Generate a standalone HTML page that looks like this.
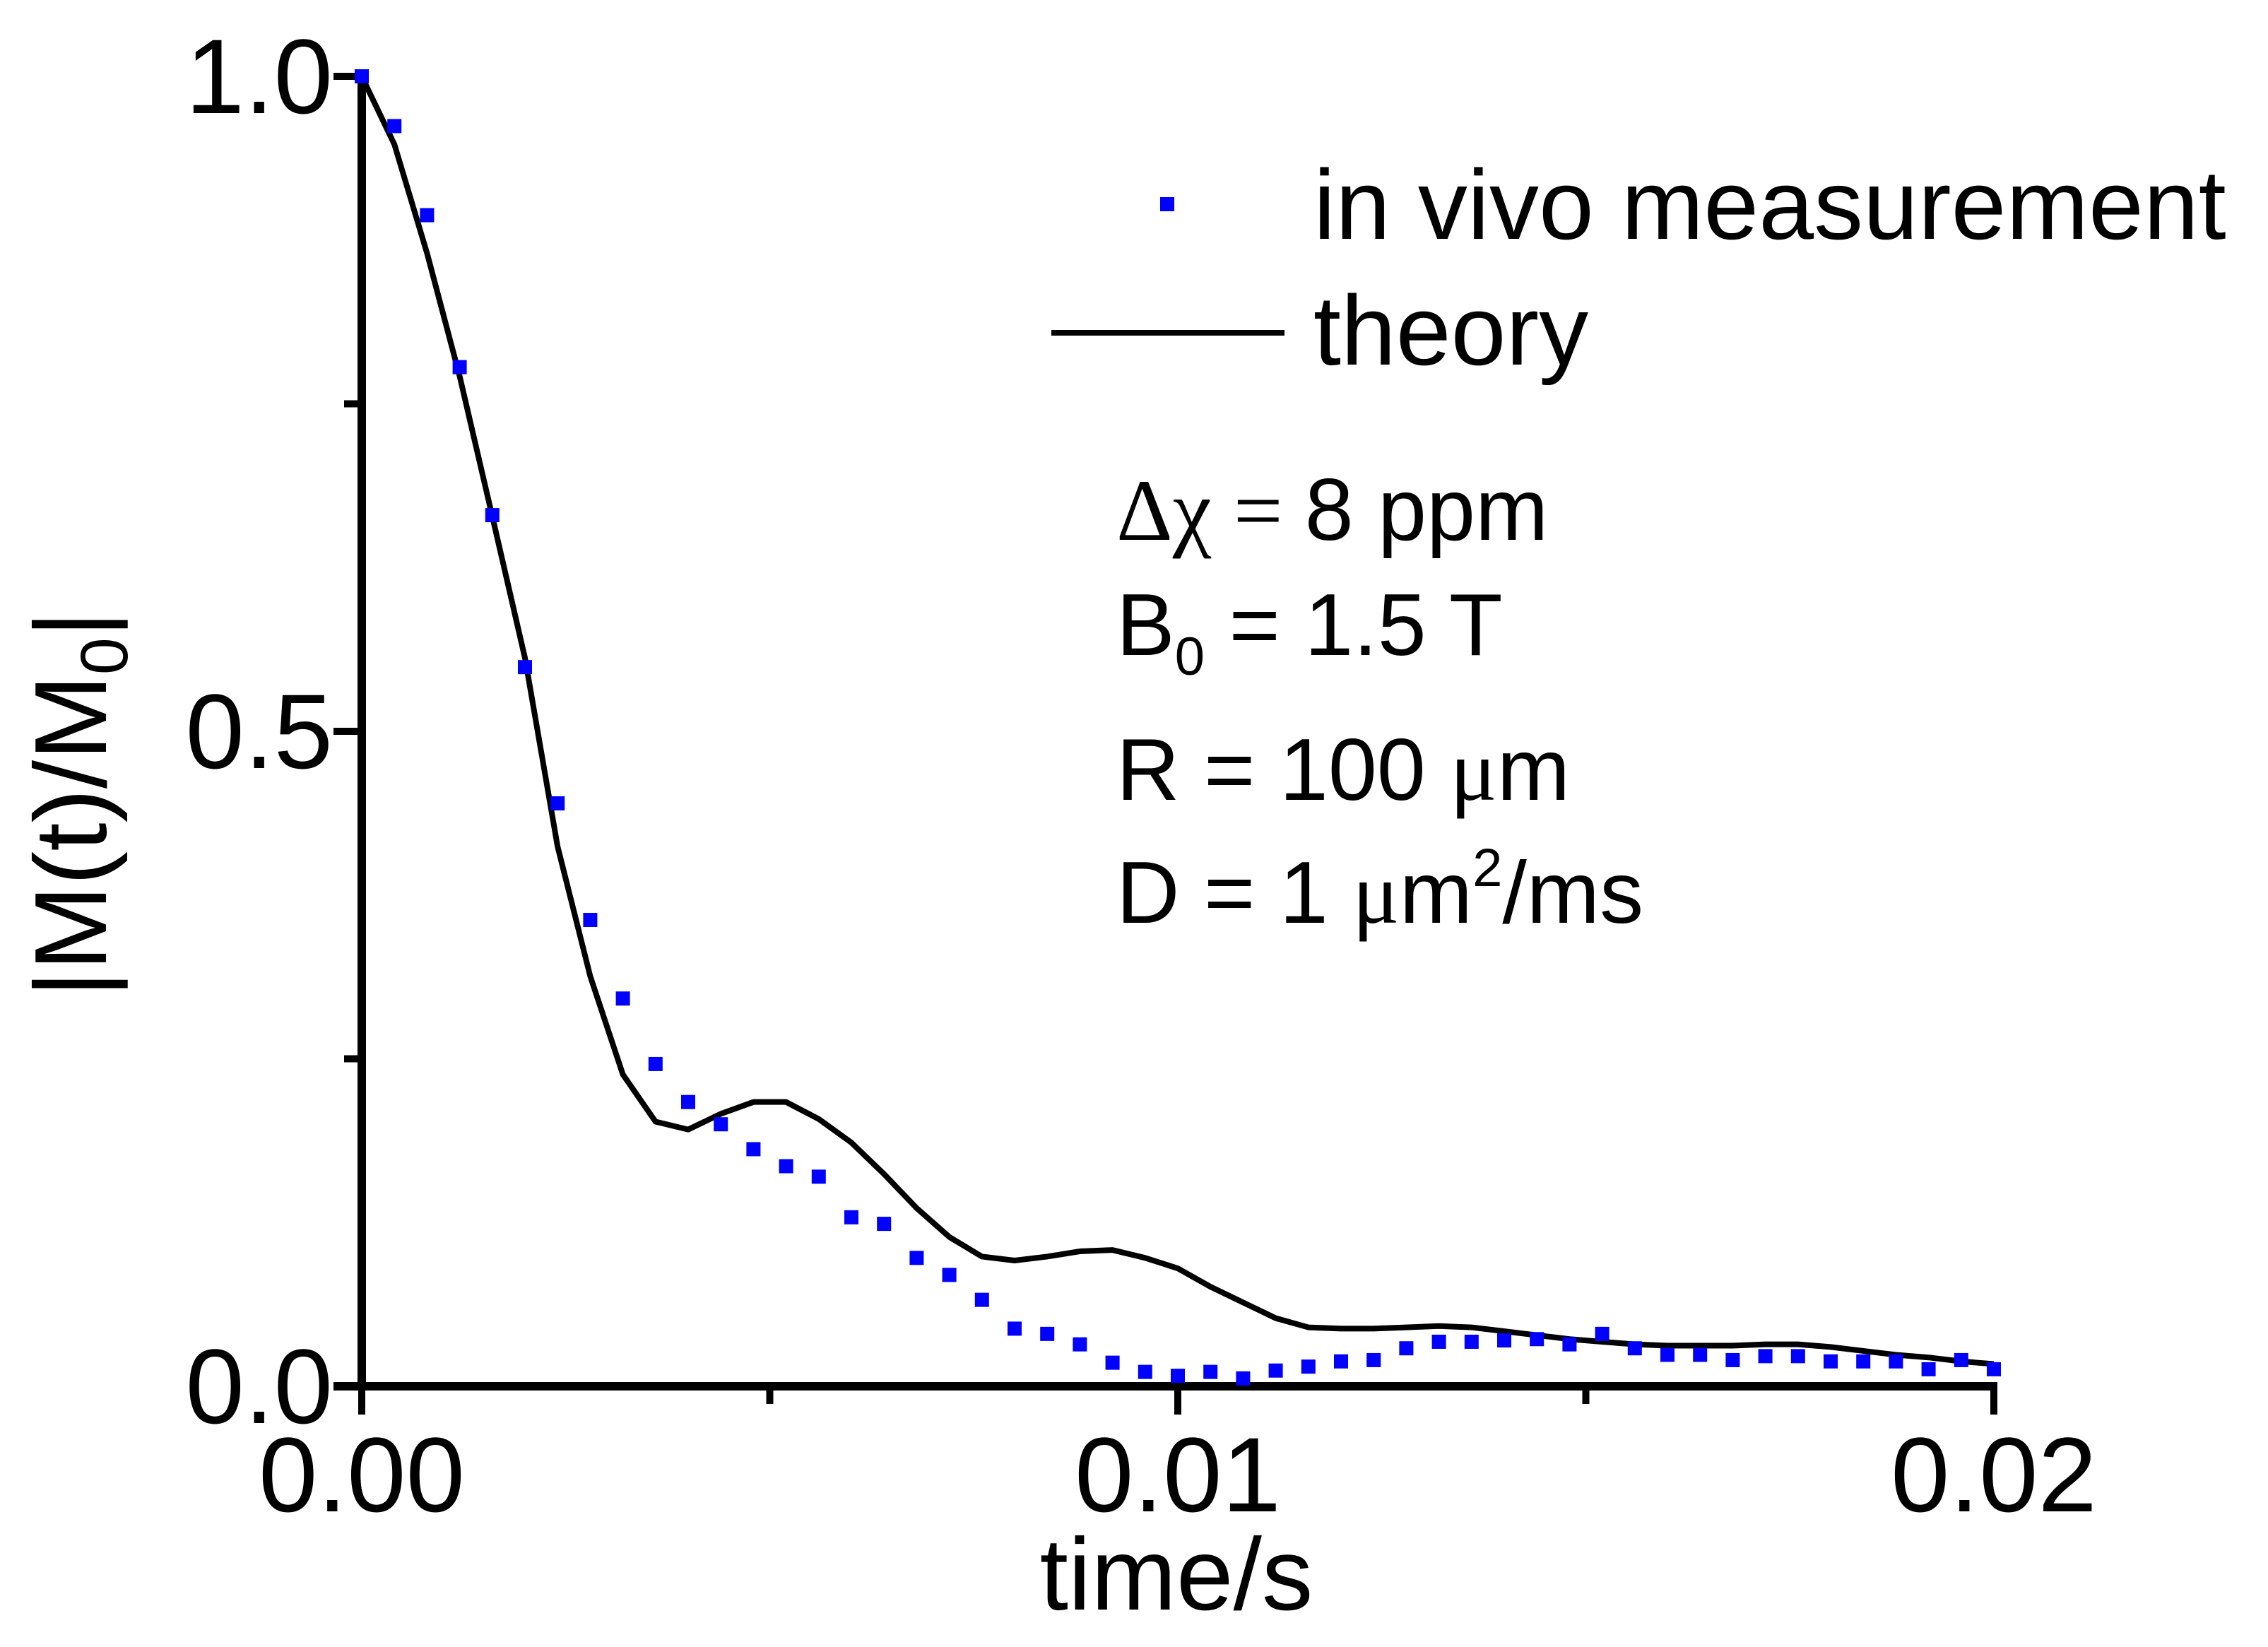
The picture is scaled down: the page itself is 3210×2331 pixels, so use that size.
<!DOCTYPE html>
<html><head><meta charset="utf-8"><style>
html,body{margin:0;padding:0;background:#fff;}
svg{display:block;font-family:"Liberation Sans",Arial,sans-serif;}
</style></head><body>
<svg id="chart" width="3210" height="2331" viewBox="0 0 3210 2331" xmlns="http://www.w3.org/2000/svg">
<rect width="3210" height="2331" fill="#fff"/>
<g id="axes"></g>
<g id="series"></g>
<g>
  <rect x="1642" y="279" width="20" height="20" fill="#0000ff"/>
  <text x="1859" y="338" font-size="140">in vivo measurement</text>
  <line x1="1488" y1="471" x2="1818" y2="471" stroke="#000" stroke-width="8"/>
  <text x="1859" y="516" font-size="140">theory</text>
</g>
<g font-size="124">
  <text x="1580" y="764"><tspan font-family="Liberation Serif,serif">Δχ = </tspan>8 ppm</text>
  <text x="1580" y="927">B<tspan font-size="76" dy="28">0</tspan><tspan dy="-28"> = 1.5 T</tspan></text>
  <text x="1580" y="1132">R = 100 <tspan font-family="Liberation Serif,serif">μ</tspan>m</text>
  <text x="1580" y="1306">D = 1 <tspan font-family="Liberation Serif,serif">μ</tspan>m<tspan font-size="76" dy="-52">2</tspan><tspan dy="52">/ms</tspan></text>
</g>
<text x="1665" y="2278" font-size="145" text-anchor="middle">time/s</text>
<text transform="translate(150,1138) rotate(-90)" font-size="145" text-anchor="middle">|M(t)/M<tspan font-size="95" dy="30">0</tspan><tspan dy="-30">|</tspan></text>
</svg>
<script>
const xTicks = [0, 0.01, 0.02];
const xTickLabels = ["0.00", "0.01", "0.02"];
const xMinor = [0.005, 0.015];
const yTicks = [0, 0.5, 1.0];
const yTickLabels = ["0.0", "0.5", "1.0"];
const yMinor = [0.25, 0.75];
const measT = Array.from({length:51},(_, i)=>+(i*0.0004).toFixed(4));
const measured = [1.0,0.962,0.894,0.778,0.665,0.549,0.445,0.356,0.296,0.246,0.217,0.200,0.181,0.168,0.160,0.129,0.124,0.098,0.085,0.066,0.044,0.040,0.032,0.018,0.011,0.008,0.011,0.006,0.012,0.015,0.019,0.020,0.029,0.034,0.034,0.035,0.036,0.032,0.040,0.029,0.024,0.024,0.020,0.023,0.023,0.019,0.019,0.019,0.013,0.020,0.013];
const theory = [1.0,0.948,0.865,0.771,0.664,0.556,0.412,0.313,0.238,0.202,0.196,0.208,0.217,0.217,0.204,0.186,0.162,0.136,0.114,0.099,0.096,0.099,0.103,0.104,0.098,0.090,0.076,0.064,0.052,0.045,0.044,0.044,0.045,0.046,0.045,0.042,0.039,0.036,0.034,0.032,0.031,0.031,0.031,0.032,0.032,0.030,0.027,0.024,0.022,0.019,0.017];
const X0=512,X1=2822,Y0=1962,Y1=108;
const xs = t => X0 + t/0.02*(X1-X0);
const ys = v => Y0 - v*(Y0-Y1);
const NS="http://www.w3.org/2000/svg";
function mk(tag, attrs, parent){const e=document.createElementNS(NS,tag);for(const k in attrs)e.setAttribute(k,attrs[k]);parent.appendChild(e);return e;}
const axes=document.getElementById('axes');
let a=mk('line',{x1:X0,y1:Y1,x2:X0,y2:Y0+6,stroke:'#000','stroke-width':12},axes);


a=mk('line',{x1:472,y1:Y0,x2:X1+5,y2:Y0,stroke:'#000','stroke-width':12},axes);


xTicks.forEach((t,i)=>{
  const l=mk('line',{x1:xs(t),y1:Y0,x2:xs(t),y2:Y0+40,stroke:'#000','stroke-width':10},axes);
  
  
  const tx=mk('text',{x:xs(t),y:2139,'font-size':150,'text-anchor':'middle'},axes);
  tx.textContent=xTickLabels[i];
  
  
});
xMinor.forEach(t=>{
  const l=mk('line',{x1:xs(t),y1:Y0,x2:xs(t),y2:Y0+25,stroke:'#000','stroke-width':10},axes);
  
  
});
yTicks.forEach((v,i)=>{
  const l=mk('line',{x1:X0,y1:ys(v),x2:X0-40,y2:ys(v),stroke:'#000','stroke-width':10},axes);
  
  
  const tx=mk('text',{x:471,y:ys(v)+52,'font-size':150,'text-anchor':'end'},axes);
  tx.textContent=yTickLabels[i];
  
  
});
yMinor.forEach(v=>{
  const l=mk('line',{x1:X0,y1:ys(v),x2:X0-25,y2:ys(v),stroke:'#000','stroke-width':10},axes);
  
  
});
const ser=document.getElementById('series');
const p=mk('polyline',{points:theory.map((v,i)=>xs(measT[i])+','+ys(v)).join(' '),fill:'none',stroke:'#000','stroke-width':8,'stroke-linejoin':'round'},ser);


measured.forEach((v,i)=>{
  const r=mk('rect',{x:xs(measT[i])-10,y:ys(v)-10,width:20,height:20,fill:'#0000ff'},ser);
  
  
});
</script>
</body></html>
